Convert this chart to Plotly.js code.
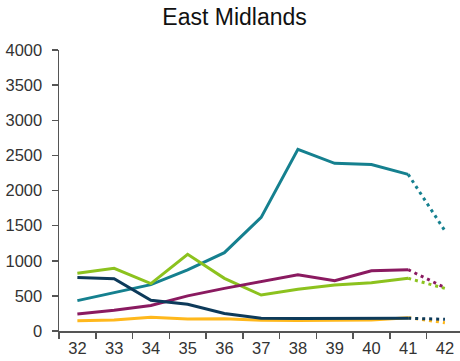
<!DOCTYPE html>
<html>
<head>
<meta charset="utf-8">
<script src="https://cdn.plot.ly/plotly-3.0.1.min.js"></script>
<style>html,body{margin:0;padding:0;background:#fff;}#chart{width:460px;height:361px;}</style>
</head>
<body>
<div id="chart"></div>
<script>
const categories = ["32","33","34","35","36","37","38","39","40","41","42"];
const tealValues   = [432, 543, 660, 870, 1115, 1618, 2586, 2387, 2370, 2230, 1425];
const greenValues  = [821, 892, 675, 1092, 750, 512, 594, 655, 688, 750, 607];
const purpleValues = [242, 295, 362, 500, 607, 700, 800, 716, 858, 873, 617];
const navyValues   = [762, 745, 438, 380, 250, 182, 178, 176, 180, 182, 166];
const orangeValues = [147, 155, 195, 171, 174, 152, 148, 147, 155, 190, 118];
const yTicks = [0, 500, 1000, 1500, 2000, 2500, 3000, 3500, 4000];

const series = [
  {name: "Teal", values: tealValues, color: "#15808f"},
  {name: "Green", values: greenValues, color: "#8cc21e"},
  {name: "Purple", values: purpleValues, color: "#8a1a60"},
  {name: "Orange", values: orangeValues, color: "#ffb81c"},
  {name: "Navy", values: navyValues, color: "#0d3a5a"}
];

const solidN = 10;
const traces = [];
series.forEach(s => {
  traces.push({
    x: categories.slice(0, solidN), y: s.values.slice(0, solidN),
    type: "scatter", mode: "lines", name: s.name,
    line: {color: s.color, width: 3}, hoverinfo: "skip"
  });
  traces.push({
    x: categories.slice(solidN - 1), y: s.values.slice(solidN - 1),
    type: "scatter", mode: "lines", name: s.name + " (projected)",
    line: {color: s.color, width: 3, dash: "3px,4px"}, hoverinfo: "skip"
  });
});

const layout = {
  width: 460, height: 361,
  margin: {l: 59, r: 0, t: 50, b: 30},
  paper_bgcolor: "#fff", plot_bgcolor: "#fff",
  showlegend: false,
  title: {text: "East Midlands", x: 0.51, xanchor: "center",
          yref: "container", y: 0.952, yanchor: "middle",
          font: {family: "Liberation Sans, Arial, sans-serif", size: 23, color: "#111"}},
  font: {family: "Liberation Sans, Arial, sans-serif", size: 16.5, color: "#333"},
  xaxis: {
    type: "category", categoryorder: "array", categoryarray: categories,
    range: [-0.5, 10.41], tickson: "boundaries",
    showgrid: false, zeroline: false,
    showline: true, linecolor: "#555", linewidth: 1.5,
    ticks: "outside", ticklen: 6, tickcolor: "#555", tickwidth: 1.5,
    ticklabelstandoff: 2,
    tickfont: {size: 16.5, color: "#333"}
  },
  yaxis: {
    range: [0, 4000], tickvals: yTicks, ticktext: yTicks.map(String),
    showgrid: false, zeroline: false,
    showline: true, linecolor: "#555", linewidth: 1.5,
    ticks: "outside", ticklen: 6, tickcolor: "#555", tickwidth: 1.5,
    ticklabelstandoff: 6,
    tickfont: {size: 16.5, color: "#333"}
  }
};

Plotly.newPlot("chart", traces, layout, {displayModeBar: false, staticPlot: true});
</script>
</body>
</html>
